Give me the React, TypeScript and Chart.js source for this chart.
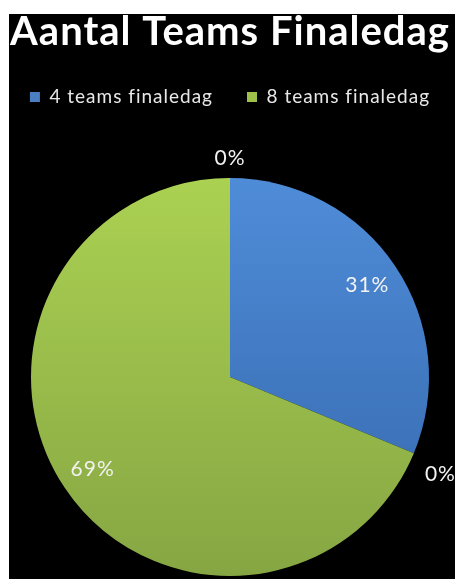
import React, { useEffect, useRef } from "react";
import { Chart, registerables } from "chart.js";

Chart.register(...registerables);

const titleText = "Aantal Teams Finaledag";
const categories = ["4 teams finaledag", "", "8 teams finaledag", ""];
const values = [5, 0, 11, 0];
const topColors = ["#4f8cd8", "#c0504d", "#abd152", "#8064a2"];
const bottomColors = ["#3467ab", "#943634", "#86a643", "#5f497a"];
const legendColors = ["#4a7fc4", "#c0504d", "#9cc04a", "#8064a2"];

const FONT = "Lato, 'Noto Sans', sans-serif";

const spacing = {
  id: "spacing",
  beforeLayout(chart: any) {
    chart.ctx.letterSpacing = "1px";
  },
  beforeDraw(chart: any) {
    chart.ctx.letterSpacing = "1px";
  },
};

const pctLabels = {
  id: "pctLabels",
  afterDatasetsDraw(chart: any) {
    const meta = chart.getDatasetMeta(0);
    const ctx = chart.ctx;
    const total = values.reduce((a, b) => a + b, 0);
    ctx.save();
    ctx.font = `21px ${FONT}`;
    ctx.fillStyle = "#f2f2f2";
    ctx.textAlign = "center";
    ctx.textBaseline = "middle";
    meta.data.forEach((arc: any, i: number) => {
      const p = arc.getProps(["x", "y", "startAngle", "endAngle", "outerRadius"], true);
      const mid = (p.startAngle + p.endAngle) / 2;
      const text = Math.round((values[i] / total) * 100) + "%";
      const w = ctx.measureText(text).width;
      const h = 16;
      const c = Math.cos(mid);
      const s = Math.sin(mid);
      let tx: number;
      let ty: number;
      if (values[i] > 0) {
        const r = p.outerRadius * 0.83;
        tx = p.x + c * r;
        ty = p.y + s * r;
      } else {
        const r = p.outerRadius + 12;
        const onAxis = Math.abs(c) < 0.2;
        const ox = onAxis ? (c * w) / 2 : (Math.sign(c) * w) / 2;
        const oy = onAxis ? (s * h) / 2 : Math.sign(s) * h;
        tx = p.x + c * r + ox;
        ty = p.y + s * r + oy;
      }
      ctx.fillText(text, tx, ty);
    });
    ctx.restore();
  },
};

const legendGap = {
  id: "legendGap",
  beforeInit(chart: any) {
    const legend = chart.legend;
    if (!legend) return;
    const origFit = legend.fit;
    legend.fit = function () {
      const mw = this.maxWidth;
      this.maxWidth = mw + 80;
      origFit.call(this);
      this.maxWidth = mw;
      this.width = Math.min(this.width, mw);
      this.height += 61.5;
    };
    const origDraw = legend.draw;
    legend.draw = function (...args: any[]) {
      const l = this.left;
      const r = this.right;
      this.left = l - 80;
      this.right = r + 80;
      origDraw.apply(this, args);
      this.left = l;
      this.right = r;
    };
  },
};

export default function App() {
  const ref = useRef<HTMLCanvasElement | null>(null);
  useEffect(() => {
    if (!ref.current) return;
    const makeColor = (i: number) => (context: any) => {
      const area = context.chart.chartArea;
      if (!area) return legendColors[i];
      const g = context.chart.ctx.createLinearGradient(0, area.top, 0, area.bottom);
      g.addColorStop(0, topColors[i]);
      g.addColorStop(1, bottomColors[i]);
      return g;
    };
    const chart = new Chart(ref.current, {
      type: "pie",
      data: {
        labels: categories,
        datasets: [
          {
            data: values,
            backgroundColor: (context: any) => makeColor(context.dataIndex)(context),
            borderWidth: 0,
            hoverOffset: 0,
          },
        ],
      },
      options: {
        responsive: false,
        animation: false,
        layout: { padding: { top: 0, bottom: 3, left: 0, right: 4 } },
        plugins: {
          title: {
            display: true,
            text: titleText,
            color: "#ffffff",
            font: { family: FONT, size: 40, weight: "bold", lineHeight: 0.9 },
            padding: { top: 0, bottom: 3.5 },
          },
          legend: {
            display: true,
            position: "top",
            labels: {
              color: "#e8e8e8",
              font: { family: FONT, size: 19 },
              boxWidth: 10,
              boxHeight: 10,
              padding: 34,
              filter: (item: any) => item.text !== "",
              generateLabels: (chart: any) => {
                const items = Chart.overrides.pie.plugins.legend.labels.generateLabels(chart);
                return items.map((it: any, i: number) => ({
                  ...it,
                  fillStyle: legendColors[i],
                  strokeStyle: legendColors[i],
                  lineWidth: 0,
                }));
              },
            },
          },
          tooltip: { enabled: false },
        },
      },
      plugins: [spacing, legendGap, pctLabels],
    });
    return () => chart.destroy();
  }, []);
  return (
    <div
      style={{
        position: "absolute",
        left: 9,
        top: 14,
        width: 446,
        height: 565,
        background: "#000000",
      }}
    >
      <canvas ref={ref} width={446} height={565} />
    </div>
  );
}
